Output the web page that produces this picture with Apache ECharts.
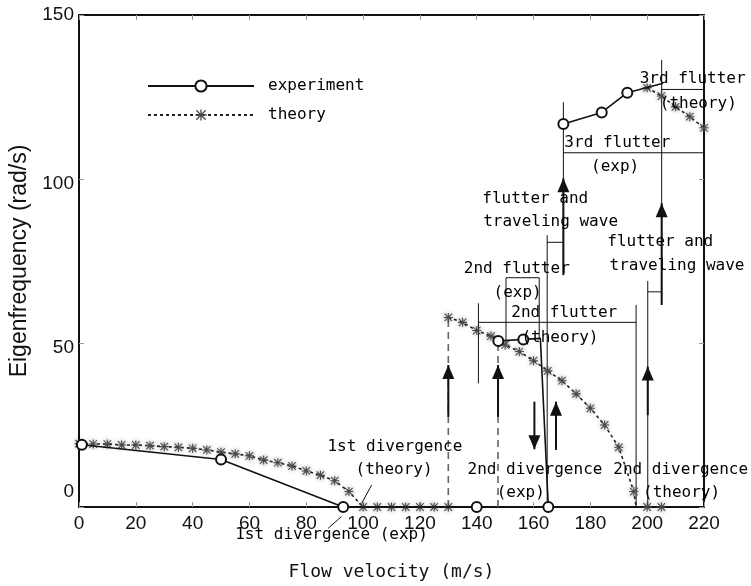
<!DOCTYPE html>
<html><head><meta charset="utf-8">
<script src="https://cdn.jsdelivr.net/npm/echarts@6/dist/echarts.min.js"></script>
<style>html,body{margin:0;padding:0;background:#fff}#c{width:751px;height:586px}</style>
</head><body><div id="c"></div>
<script>
// ---- tick labels ----
const xTicks = [0, 20, 40, 60, 80, 100, 120, 140, 160, 180, 200, 220];
const yTicks = [0, 50, 100, 150];

// ---- experiment ----
const expMode1 = [[1, 19], [50, 14.5], [93, 0], [140, 0]];
const expMode2 = [[147.6, 50.6], [156.4, 51.1], [162.4, 51.4], [165.2, 0]];
const expMode2Hidden = [2];
const expMode3 = [[170.5, 116.8], [184, 120.3], [193, 126.3], [205.6, 129.2]];
const expMode3Hidden = [3];

// ---- theory ----
const theoryMode1 = [[0, 19.3], [5, 19.2], [10, 19.2], [15, 18.9], [20, 18.9], [25, 18.7], [30, 18.4], [35, 18.2], [40, 17.9], [45, 17.4], [50, 16.7], [55, 16.2], [60, 15.6], [65, 14.3], [70, 13.5], [75, 12.5], [80, 11], [85, 9.7], [90, 8], [95, 4.7], [100, 0], [105, 0], [110, 0], [115, 0], [120, 0], [125, 0], [130, 0]];
const theoryMode2 = [[130, 57.8], [135, 56.3], [140, 53.8], [145, 52.1], [150, 49.4], [155, 47.4], [160, 44.6], [165, 41.5], [170, 38.5], [175, 34.5], [180, 30.1], [185, 25], [190, 18.2], [195.3, 4.7], [196.1, 0], [200, 0], [205, 0]];
const theoryMode2Hidden = [14];
const theoryMode3 = [[200, 127.8], [205, 125.3], [210, 122], [215, 119], [220, 115.6]];

// ---- annotation guides (data coordinates) ----
const guideSegments = [
  [[87.7, -6.5], [92.4, -2.9]],
  [[103, 6.7], [99.5, 1.1]],
  [[140.6, 56.3], [196.1, 56.3]],
  [[140.6, 62.1], [140.6, 37.7]],
  [[196.1, 61.6], [196.1, 0]],
  [[150.3, 69.9], [162, 69.9]],
  [[150.3, 69.9], [150.3, 50]],
  [[162, 69.9], [162, 51.4]],
  [[164.8, 82.9], [164.8, 0]],
  [[164.8, 80.7], [170.5, 80.7]],
  [[170.5, 123.4], [170.5, 70.7]],
  [[170.5, 108], [220, 108]],
  [[205.1, 136.3], [205.1, 61.6]],
  [[205.1, 127.3], [220, 127.3]],
  [[200.2, 68.9], [200.2, 0]],
  [[200.2, 65.6], [205.1, 65.6]]
];
const jumpSegments = [
  [[130, 0], [130, 57.8]],
  [[147.5, 0], [147.5, 50.6]]
];
// [x, from, to]
const arrows = [
  [130, 27.5, 43.3], [147.5, 27.5, 43.3], [160.3, 32.1, 17.6], [167.9, 17.4, 32.1],
  [200.2, 28, 42.8], [170.5, 70.7, 100.2], [205.1, 61.6, 92.6]
];
// [text, x, y]
const notes = [
  ['1st divergence (exp)', 88.9, -8.5],
  ['1st divergence', 111.2, 18.4],
  ['(theory)', 110.9, 11.3],
  ['2nd flutter', 154.1, 72.5],
  ['(exp)', 154.4, 65.3],
  ['2nd flutter', 170.8, 59.1],
  ['(theory)', 169.3, 51.6],
  ['flutter and', 160.6, 94.1],
  ['traveling wave', 166, 87],
  ['3rd flutter', 189.5, 111.1],
  ['(exp)', 188.7, 103.8],
  ['3rd flutter', 216, 130.5],
  ['(theory)', 218, 122.9],
  ['flutter and', 204.6, 80.9],
  ['traveling wave', 210.5, 73.6],
  ['2nd divergence', 160.5, 11.3],
  ['(exp)', 155.5, 4.2],
  ['2nd divergence', 211.8, 11.3],
  ['(theory)', 212.1, 4.2]
];

const MONO = 'DejaVu Sans Mono';
const SANS = 'Liberation Sans Narrow, Liberation Sans';
const STAR = 'path://M4.4,0H5.6V10H4.4Z M0,4.4H10V5.6H0Z M1.2,0.4L9.6,8.8L8.8,9.6L0.4,1.2Z M8.8,0.4L9.6,1.2L1.2,9.6L0.4,8.8Z';

function withHidden(arr, hidden) {
  return arr.map((p, i) => hidden.indexOf(i) >= 0 ? { value: p, symbol: 'none' } : { value: p });
}

const expBase = {
  type: 'line', name: 'experiment', symbol: 'emptyCircle', symbolSize: 10,
  lineStyle: { color: '#111', width: 1.6 },
  itemStyle: { color: '#111', borderWidth: 1.6, borderColor: '#111' },
  z: 6, animation: false, clip: false
};
const theoryBase = {
  type: 'line', name: 'theory', symbol: STAR, symbolSize: 9,
  lineStyle: { color: '#222', width: 1.6, type: [3, 3] },
  itemStyle: { color: '#4a4a4a', shadowBlur: 4, shadowColor: 'rgba(0,0,0,0.45)' },
  z: 5, animation: false, clip: false
};

const series = [];
guideSegments.forEach(seg => series.push({
  type: 'line', data: seg, symbol: 'none', silent: true, clip: false, animation: false,
  lineStyle: { color: '#111', width: 1 }, z: 3
}));
jumpSegments.forEach(seg => series.push({
  type: 'line', data: seg, symbol: 'none', silent: true, clip: false, animation: false,
  lineStyle: { color: '#666', width: 1.6, type: [7, 5] }, z: 3
}));
arrows.forEach(a => {
  series.push({
    type: 'line', data: [[a[0], a[1]], [a[0], a[2]]], symbol: 'none', silent: true,
    clip: false, animation: false, lineStyle: { color: '#111', width: 2 }, z: 4
  });
  const up = a[2] > a[1];
  series.push({
    type: 'scatter', data: [[a[0], a[2]]], symbol: 'triangle', symbolSize: [12, 14],
    symbolRotate: up ? 0 : 180, symbolOffset: [0, up ? '50%' : '-50%'],
    itemStyle: { color: '#111', opacity: 1 }, silent: true, clip: false, animation: false, z: 4
  });
});
series.push(Object.assign({}, expBase, { data: withHidden(expMode1, []) }));
series.push(Object.assign({}, expBase, { data: withHidden(expMode2, expMode2Hidden) }));
series.push(Object.assign({}, expBase, { data: withHidden(expMode3, expMode3Hidden) }));
series.push(Object.assign({}, theoryBase, { data: withHidden(theoryMode1, []) }));
series.push(Object.assign({}, theoryBase, { data: withHidden(theoryMode2, theoryMode2Hidden) }));
series.push(Object.assign({}, theoryBase, { data: withHidden(theoryMode3, []) }));
series.push({
  type: 'scatter', symbolSize: 0, clip: false, animation: false, silent: true, z: 7,
  itemStyle: { opacity: 1 },
  data: notes.map(n => ({ name: n[0], value: [n[1], n[2]] })),
  label: {
    show: true, position: 'inside', formatter: p => p.name, opacity: 1,
    textBorderWidth: 0, fontFamily: MONO, fontSize: 16, color: '#000',
    align: 'center', verticalAlign: 'middle'
  }
});

const xCommon = {
  type: 'value', min: xTicks[0], max: xTicks[xTicks.length - 1], interval: xTicks[1] - xTicks[0],
  splitLine: { show: false },
  axisLine: { onZero: false, lineStyle: { color: '#111', width: 2 } },
  axisTick: { inside: true, length: 5, lineStyle: { color: '#999', width: 1 } }
};
const yCommon = {
  type: 'value', min: yTicks[0], max: yTicks[yTicks.length - 1], interval: yTicks[1] - yTicks[0],
  splitLine: { show: false },
  axisLine: { onZero: false, lineStyle: { color: '#111', width: 2 } },
  axisTick: { inside: true, length: 5, lineStyle: { color: '#999', width: 1 } }
};
const yTop = yTicks[yTicks.length - 1];

const option = {
  backgroundColor: '#fff',
  animation: false,
  grid: { left: 79, right: 47, top: 15, bottom: 79, containLabel: false },
  legend: {
    data: ['experiment', 'theory'], orient: 'vertical', left: 147, top: 78, padding: 0,
    itemWidth: 106, itemHeight: 14, itemGap: 13, selectedMode: false,
    textStyle: { fontFamily: MONO, fontSize: 16, color: '#000', padding: [0, 0, 0, 9] }
  },
  xAxis: [
    Object.assign({}, xCommon, {
      position: 'bottom',
      axisLabel: { margin: 7, fontFamily: SANS, fontSize: 19, color: '#111' },
      name: 'Flow velocity (m/s)', nameLocation: 'middle', nameGap: 56,
      nameTextStyle: { fontFamily: MONO, fontSize: 18, color: '#111' }
    }),
    Object.assign({}, xCommon, { position: 'top', axisLabel: { show: false } })
  ],
  yAxis: [
    Object.assign({}, yCommon, {
      position: 'left',
      axisLabel: {
        margin: 5, color: '#111',
        formatter: v => v === 0 ? '{z|0}' : (v === yTop ? '{t|' + v + '}' : '{n|' + v + '}'),
        rich: {
          z: { fontFamily: SANS, fontSize: 19, color: '#111', padding: [0, 0, 30, 0] },
          n: { fontFamily: SANS, fontSize: 19, color: '#111', padding: [10, 0, 0, 0] },
          t: { fontFamily: SANS, fontSize: 19, color: '#111' }
        }
      },
      name: 'Eigenfrequency (rad/s)', nameLocation: 'middle', nameGap: 45,
      nameTextStyle: { fontFamily: 'Liberation Sans', fontSize: 23, color: '#111' }
    }),
    Object.assign({}, yCommon, { position: 'right', axisLabel: { show: false } })
  ],
  series: series
};

const chart = echarts.init(document.getElementById('c'), null, { renderer: 'canvas' });
chart.setOption(option);
</script>
</body></html>
